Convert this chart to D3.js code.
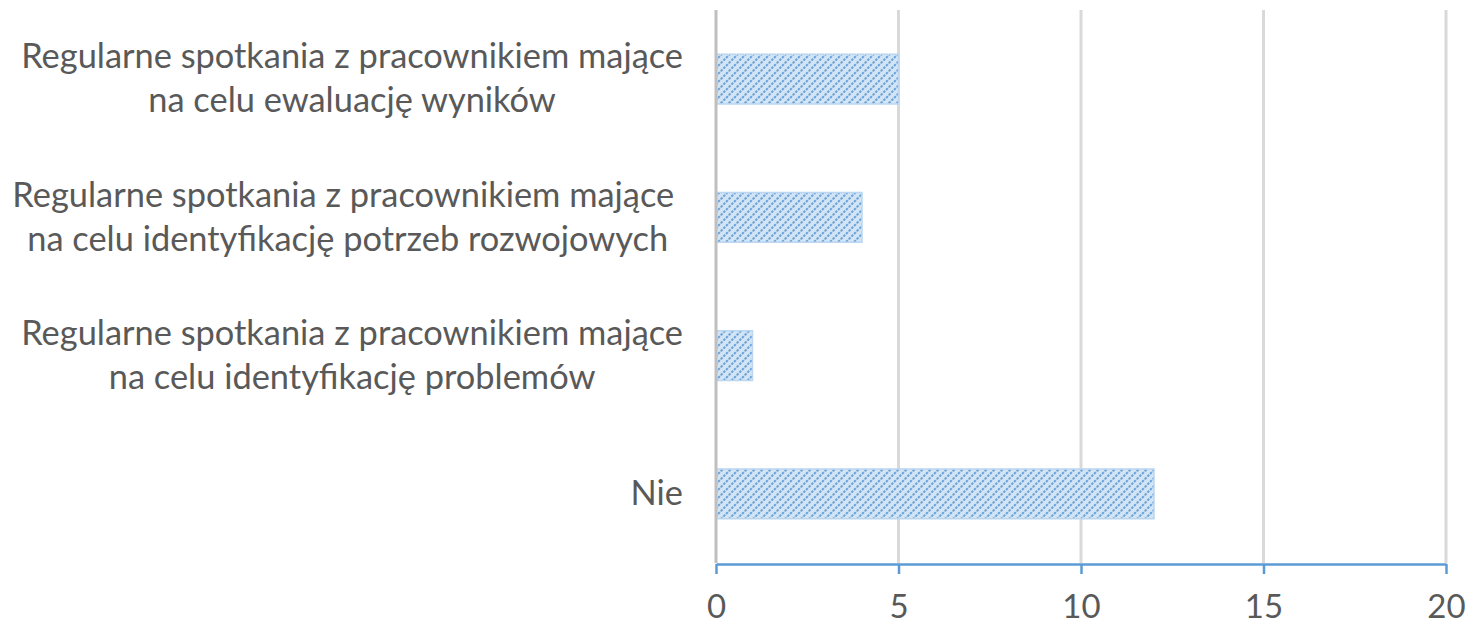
<!DOCTYPE html>
<html><head><meta charset="utf-8">
<script src="https://cdn.jsdelivr.net/npm/d3@7"></script>
<style>body{margin:0;background:#fff}svg{display:block}</style>
</head><body>
<script>
const categories = [
  ["Regularne spotkania z pracownikiem mające", "na celu ewaluację wyników"],
  ["Regularne spotkania z pracownikiem mające ", "na celu identyfikację potrzeb rozwojowych"],
  ["Regularne spotkania z pracownikiem mające", "na celu identyfikację problemów"],
  ["Nie"]
];
const values = [5, 4, 1, 12];
const xTicks = [0, 5, 10, 15, 20];

const W = 1474, H = 625;
const margin = {left: 716, right: 28, top: 10, bottom: 62};
const svg = d3.select("body").append("svg").attr("width", W).attr("height", H);
const font = "Lato, 'Open Sans', sans-serif";

const x = d3.scaleLinear().domain([0, 20]).range([margin.left, W - margin.right]);
const y = d3.scaleBand().domain(d3.range(categories.length)).range([margin.top, H - margin.bottom]).paddingInner(0.64).paddingOuter(0.32);

// pattern
const defs = svg.append("defs");
const pat = defs.append("pattern").attr("id", "hatch").attr("patternUnits", "userSpaceOnUse")
  .attr("width", 8).attr("height", 8);
pat.append("rect").attr("width", 8).attr("height", 8).attr("fill", "#d3e4f5");
pat.append("path").attr("d", "M-2,10 L10,-2 M-2,2 L2,-2 M6,10 L10,6")
  .attr("stroke", "#6aa5dc").attr("stroke-width", 2).attr("stroke-dasharray", "2.6,1.2");

// gridlines
svg.append("g").selectAll("line").data(xTicks.slice(1)).join("line")
  .attr("x1", d => x(d)).attr("x2", d => x(d))
  .attr("y1", margin.top).attr("y2", H - margin.bottom)
  .attr("stroke", "#d9d9d9").attr("stroke-width", 3);

// bars
svg.append("g").selectAll("rect").data(values).join("rect")
  .attr("x", x(0)).attr("y", (d, i) => y(i))
  .attr("width", d => x(d) - x(0)).attr("height", y.bandwidth())
  .attr("fill", "url(#hatch)").attr("stroke", "#bcd6f0").attr("stroke-width", 1.5);

// vertical axis line
svg.append("line").attr("x1", x(0)).attr("x2", x(0))
  .attr("y1", margin.top).attr("y2", H - margin.bottom)
  .attr("stroke", "#bfbfbf").attr("stroke-width", 3);

// x axis
const xAxis = svg.append("g").attr("transform", `translate(0,${H - margin.bottom + 1})`)
  .call(d3.axisBottom(x).tickValues(xTicks).tickSize(10).tickSizeOuter(0).tickPadding(21));
xAxis.select(".domain").attr("stroke", "#5b9bd5").attr("stroke-width", 2.5);
xAxis.selectAll(".tick line").attr("stroke", "#5b9bd5").attr("stroke-width", 2.5);
xAxis.selectAll(".tick text").attr("fill", "#595959").attr("font-family", font).attr("font-size", 33);

// category labels
const fs = 34.4, lh = 44, right = 683;
categories.forEach((lines, i) => {
  const g = svg.append("g");
  const cy = y(i) + y.bandwidth() / 2;
  const n = lines.length;
  const texts = lines.map((t, j) => g.append("text").text(t)
    .attr("font-family", font).attr("font-size", fs).attr("fill", "#595959")
    .style("white-space", "pre")
    .attr("text-anchor", "middle")
    .attr("y", cy + (j - (n - 1) / 2) * lh).attr("dy", "0.33em"));
  const maxW = d3.max(texts, t => t.node().getComputedTextLength());
  texts.forEach(t => t.attr("x", right - maxW / 2));
});
</script>
</body></html>
